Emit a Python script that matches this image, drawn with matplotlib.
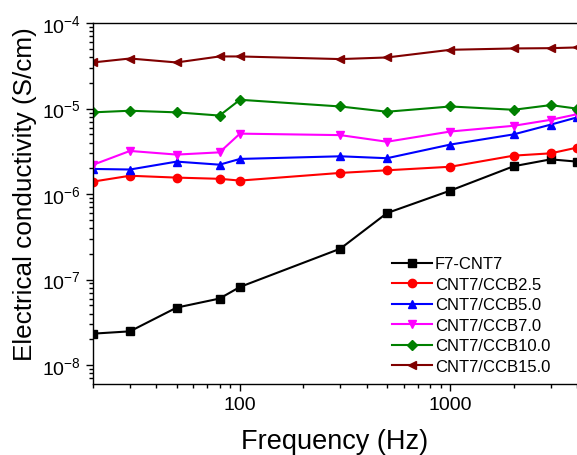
import matplotlib
matplotlib.use("Agg")
import matplotlib.pyplot as plt
import numpy as np
from matplotlib.ticker import LogLocator, FuncFormatter, NullFormatter

plt.rcParams['font.family'] = ['Liberation Sans', 'DejaVu Sans']
plt.rcParams['mathtext.fontset'] = 'custom'
plt.rcParams['mathtext.rm'] = 'Liberation Sans'

freq = [20, 30, 50, 80, 100, 300, 500, 1000, 2000, 3000, 4000]

f7_cnt7 = [2.33e-8, 2.48e-8, 4.7e-8, 6.0e-8, 8.2e-8, 2.3e-7, 6.0e-7, 1.1e-6, 2.12e-6, 2.55e-6, 2.4e-6]
ccb2_5 = [1.4e-6, 1.64e-6, 1.56e-6, 1.51e-6, 1.44e-6, 1.77e-6, 1.9e-6, 2.09e-6, 2.82e-6, 3.0e-6, 3.5e-6]
ccb5_0 = [1.97e-6, 1.94e-6, 2.4e-6, 2.21e-6, 2.58e-6, 2.77e-6, 2.63e-6, 3.8e-6, 5.0e-6, 6.5e-6, 7.9e-6]
ccb7_0 = [2.2e-6, 3.2e-6, 2.9e-6, 3.08e-6, 5.1e-6, 4.9e-6, 4.1e-6, 5.4e-6, 6.3e-6, 7.4e-6, 8.6e-6]
ccb10_0 = [9.05e-6, 9.45e-6, 9.05e-6, 8.3e-6, 1.27e-5, 1.06e-5, 9.2e-6, 1.06e-5, 9.7e-6, 1.1e-5, 1.0e-5]
ccb15_0 = [3.47e-5, 3.86e-5, 3.47e-5, 4.08e-5, 4.08e-5, 3.8e-5, 3.97e-5, 4.88e-5, 5.06e-5, 5.1e-5, 5.2e-5]

labels = ["F7-CNT7", "CNT7/CCB2.5", "CNT7/CCB5.0", "CNT7/CCB7.0", "CNT7/CCB10.0", "CNT7/CCB15.0"]
series = [f7_cnt7, ccb2_5, ccb5_0, ccb7_0, ccb10_0, ccb15_0]
colors = ["#000000", "#ff0000", "#0000ff", "#ff00ff", "#008000", "#800000"]
markers = ["s", "o", "^", "v", "D", "<"]

fig = plt.figure(figsize=(5.77, 4.56), dpi=100)
ax = fig.add_axes([0.161, 0.156, 0.839, 0.791])

for y, lab, c, m in zip(series, labels, colors, markers):
    ms = 5.2 if m == "D" else 6
    ax.plot(freq, y, color=c, marker=m, markersize=ms, linewidth=1.5, label=lab)

ax.set_xscale("log")
ax.set_yscale("log")
ax.set_xlim(20, 4000)
ax.set_ylim(10 ** -8.22, 1e-4)

ax.xaxis.set_major_locator(LogLocator(base=10))
ax.xaxis.set_major_formatter(FuncFormatter(lambda v, p: "%d" % v))
ax.xaxis.set_minor_formatter(NullFormatter())
ax.yaxis.set_major_formatter(FuncFormatter(lambda v, p: r"$\mathregular{10^{%d}}$" % round(np.log10(v))))

ax.tick_params(which="major", direction="out", length=5, width=1, labelsize=14)
ax.tick_params(which="minor", direction="out", length=3, width=1)
ax.spines["right"].set_visible(False)
for s in ["left", "bottom", "top"]:
    ax.spines[s].set_linewidth(1)

ax.set_xlabel("Frequency (Hz)", fontsize=19.5, labelpad=11)
ax.set_ylabel("Electrical conductivity (S/cm)", fontsize=18.8)
ax.yaxis.set_label_coords(-0.115, 0.53)

ax.legend(loc="lower right", frameon=False, fontsize=12, handlelength=2.4,
          handletextpad=0.15, labelspacing=0.33, borderaxespad=0.2,
          bbox_to_anchor=(0.965, 0.0))

fig.savefig("out.png", dpi=100)
